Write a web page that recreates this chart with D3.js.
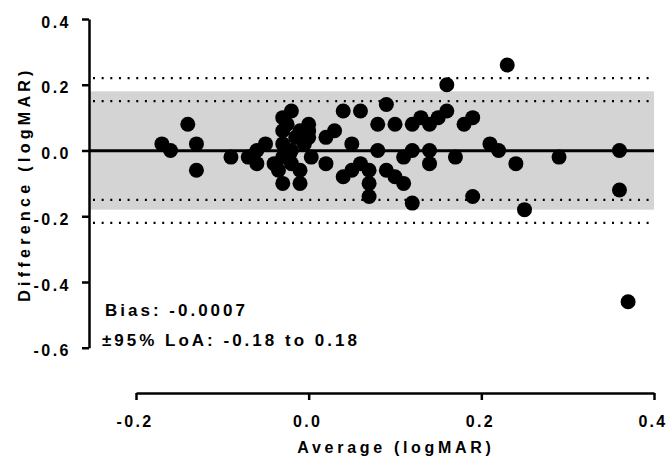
<!DOCTYPE html>
<html><head><meta charset="utf-8">
<script src="https://cdn.jsdelivr.net/npm/d3@7"></script>
<style>
html,body{margin:0;padding:0;background:#fff;}
svg{display:block;font-family:"Liberation Sans",Arial,sans-serif;font-weight:bold;}
</style></head>
<body><svg id="chart" width="669" height="462"></svg>
<script>
// Bland-Altman data (average, difference) in logMAR
const avgValues = [
 -0.17,-0.16,-0.14,-0.13,-0.13,-0.09,-0.07,-0.06,-0.06,-0.05,-0.04,
 -0.03,-0.02,-0.03,-0.03,-0.03,-0.02,-0.02,-0.035,-0.03,-0.01,-0.01,-0.01,-0.01,0.00,0.00,0.003,-0.022,0.00,-0.015,-0.025,-0.005,
 0.02,0.02,0.03,0.04,0.06,0.05,0.04,0.05,0.06,0.07,0.07,0.07,0.08,0.08,0.09,0.09,0.10,0.10,0.11,0.11,0.12,0.12,0.12,0.13,0.14,0.14,0.14,0.15,0.16,0.16,0.17,0.18,0.19,0.19,0.21,0.22,0.23,0.24,0.25,0.29,0.36,0.36,0.37
];
const diffValues = [
 0.02,0.00,0.08,0.02,-0.06,-0.02,-0.02,0.00,-0.04,0.02,-0.04,
 0.10,0.12,0.06,0.02,-0.02,0.00,-0.04,-0.06,-0.10,-0.10,-0.06,0.06,0.04,0.08,0.04,-0.02,-0.01,0.06,0.04,0.08,0.02,
 0.04,-0.04,0.06,0.12,0.12,0.02,-0.08,-0.06,-0.04,-0.06,-0.10,-0.14,0.08,0.00,0.14,-0.06,0.08,-0.08,-0.02,-0.10,0.08,0.00,-0.16,0.10,0.08,0.00,-0.04,0.10,0.12,0.20,-0.02,0.08,0.10,-0.14,0.02,0.00,0.26,-0.04,-0.18,-0.02,0.00,-0.12,-0.46
];
const bias = -0.0007;
const loaBand = [-0.18, 0.18];
const innerDotted = [-0.15, 0.15];
const outerDotted = [-0.22, 0.22];
const xTicks = [-0.2, 0.0, 0.2, 0.4];
const xTickLabels = ["-0.2", "0.0", "0.2", "0.4"];
const yTicks = [0.4, 0.2, 0.0, -0.2, -0.4, -0.6];
const yTickLabels = ["0.4", "0.2", "0.0", "-0.2", "-0.4", "-0.6"];
const xTitle = "Average (logMAR)";
const yTitle = "Difference (logMAR)";
const legendLines = ["Bias: -0.0007", "\u00B195% LoA: -0.18 to 0.18"];

const svg = d3.select("#chart");
const x = d3.scaleLinear().domain([-0.2, 0.4]).range([136, 654]);
const y = d3.scaleLinear().domain([-0.6, 0.4]).range([347.75, 19]);
const plotLeft = 89, plotRight = 654;

// shaded LoA band
svg.append("rect")
  .attr("x", plotLeft).attr("width", plotRight - plotLeft)
  .attr("y", y(loaBand[1])).attr("height", y(loaBand[0]) - y(loaBand[1]))
  .attr("fill", "#d4d4d4");

// dotted lines
[...innerDotted, ...outerDotted].forEach(v => {
  svg.append("line")
    .attr("x1", plotLeft + 4).attr("x2", plotRight - 3)
    .attr("y1", y(v)).attr("y2", y(v))
    .attr("stroke", "#000").attr("stroke-width", 2.2)
    .attr("stroke-dasharray", "2 6.65");
});

// bias line
svg.append("line")
  .attr("x1", plotLeft).attr("x2", plotRight)
  .attr("y1", y(bias)).attr("y2", y(bias))
  .attr("stroke", "#000").attr("stroke-width", 3);

// points
svg.append("g").selectAll("circle")
  .data(avgValues.map((a, i) => [a, diffValues[i]]))
  .join("circle")
  .attr("cx", d => x(d[0])).attr("cy", d => y(d[1]))
  .attr("r", 7.5).attr("fill", "#000");

// y axis
const yAxis = svg.append("g").attr("transform", `translate(${plotLeft},0)`)
  .call(d3.axisLeft(y).tickValues(yTicks).tickFormat((d, i) => yTickLabels[i]).tickSizeInner(7).tickSizeOuter(0).tickPadding(11));
yAxis.select(".domain").attr("stroke-width", 2.5);
yAxis.selectAll(".tick line").attr("stroke-width", 2.5);
yAxis.selectAll(".tick text").attr("font-size", 16).attr("font-weight", "bold")
  .attr("letter-spacing", "2.5px").attr("fill", "#000").attr("dy", "0.5em");

// x axis
const xAxis = svg.append("g").attr("transform", "translate(0,393)")
  .call(d3.axisBottom(x).tickValues(xTicks).tickFormat((d, i) => xTickLabels[i]).tickSizeInner(7).tickSizeOuter(0).tickPadding(16));
xAxis.select(".domain").attr("stroke-width", 2.5);
xAxis.selectAll(".tick line").attr("stroke-width", 2.5);
xAxis.selectAll(".tick text").attr("font-size", 16).attr("font-weight", "bold")
  .attr("letter-spacing", "2.3px").attr("fill", "#000").attr("dx", "-1.5px");

// titles
svg.append("text").attr("x", 396).attr("y", 453).attr("text-anchor", "middle")
  .attr("font-size", 16).attr("letter-spacing", "3.7px").text(xTitle);
svg.append("text").attr("transform", "translate(30,184) rotate(-90)").attr("text-anchor", "middle")
  .attr("font-size", 16).attr("letter-spacing", "4.3px").text(yTitle);

// legend text
legendLines.forEach((t, i) => {
  svg.append("text").attr("x", i === 0 ? 105 : 102).attr("y", 316 + i * 30)
    .attr("font-size", 17).attr("letter-spacing", "3px").text(t);
});
</script></body></html>
